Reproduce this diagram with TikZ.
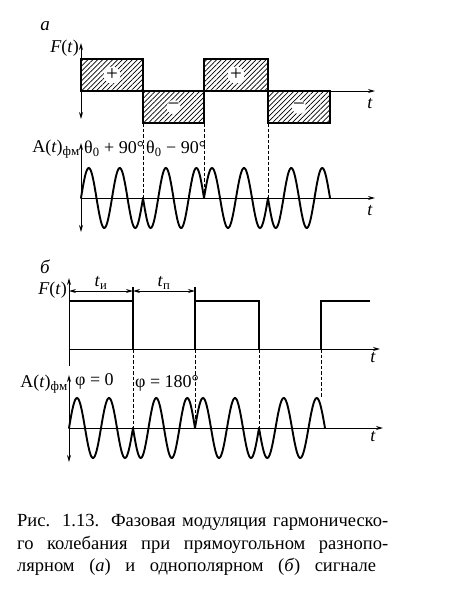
\documentclass[tikz,border=0pt]{standalone}
\usepackage{fontspec}
\setmainfont{Liberation Serif}
\usetikzlibrary{arrows.meta,patterns.meta}

\tikzset{
  axis/.style={line width=1pt, >={Stealth[length=7pt,width=4pt]}},
  pulse/.style={line width=1.6pt},
  hatch/.style={pulse, pattern={Lines[angle=45,distance=3.5pt,line width=0.7pt]}},
  wave/.style={line width=1.9pt, samples=80, smooth, line cap=round},
  marker/.style={line width=0.9pt, dash pattern=on 3.5pt off 2pt},
  lbl/.style={font=\fontsize{18}{20}\selectfont, inner sep=1pt},
  sign/.style={font=\fontsize{21}{22}\selectfont, fill=white, circle, inner sep=0pt},
  captext/.style={font=\fontsize{18.5}{20}\selectfont, inner sep=0pt, anchor=base west},
}

\begin{document}
\begin{tikzpicture}[x=1pt, y=-1pt]
\useasboundingbox (0,0) rectangle (450,598);

% --- a: bipolar signal ---
\node[lbl, font=\itshape\fontsize{19}{20}\selectfont] (labA) at (45,26) {а};
\foreach \xa/\xb/\yy in {81/143/59, 143/204/123, 204/268/59, 268/330/123}
  \draw[hatch] (\xa,91) rectangle (\xb,\yy);
\node[sign] (plusA) at (112,75) {+};
\node[sign] (minusA) at (173.5,107) {−};
\node[sign] (plusB) at (236,75) {+};
\node[sign] (minusB) at (299,107) {−};
\draw[axis, <->] (81,43) -- (81,119);
\draw[axis, ->] (81,91) -- (375,91);
\node[lbl, anchor=east] (Fa) at (80,48) {\textit{F}(\textit{t})};
\node[lbl] (ta) at (370,104) {\textit{t}};

\foreach \xm in {143,204,268}
  \draw[marker] (\xm,123) -- (\xm,198);

% phase-modulated wave a
\draw[axis, <->] (81,143) -- (81,232);
\draw[axis, ->] (81,198) -- (375,198);
\foreach \xa/\xb/\sg in {81/143/1, 143/204/-1, 204/268/1, 268/330/-1}
  \draw[wave, domain=\xa:\xb] plot (\x, {198-\sg*30*sin(720/(\xb-\xa)*(\x-\xa))});
\node[lbl, anchor=east] (Aa) at (81,149) {A(\textit{t})\textsubscript{\fontsize{13}{13}\selectfont фм}};
\node[lbl, anchor=west] (phA) at (83,149) {θ\textsubscript{0} + 90°};
\node[lbl, anchor=west] (phB) at (145,149) {θ\textsubscript{0} − 90°};
\node[lbl] (tb) at (370,211) {\textit{t}};

% --- б: unipolar signal ---
\node[lbl, font=\itshape\fontsize{19}{20}\selectfont] (labB) at (45,267) {б};
\draw[axis, <-] (69,278) -- (69,366);
\draw[axis, ->] (69,349) -- (380,349);
\draw[pulse] (69,301) -- (133,301);
\draw[pulse] (133,287) -- (133,349);
\draw[pulse] (195,349) -- (195,287);
\draw[pulse] (195,301) -- (259,301) -- (259,349);
\draw[pulse] (321,349) -- (321,301) -- (370,301);
\node[lbl, anchor=east] (Fb) at (68,290) {\textit{F}(\textit{t})};
\node[lbl] (tc) at (373,358) {\textit{t}};

\coordinate (pi0) at (69,291);
\coordinate (pi1) at (133,291);
\coordinate (pi2) at (195,291);
\draw[axis, <->] (pi0) -- (pi1) node[midway, above=0pt, lbl] (tI) {\textit{t}\textsubscript{и}};
\draw[axis, <->] (pi1) -- (pi2) node[midway, above=0pt, lbl] (tP) {\textit{t}\textsubscript{п}};

\foreach \xm/\ye in {133/428, 195/428, 259/428, 321/397}
  \draw[marker] (\xm,349) -- (\xm,\ye);

% phase-modulated wave б
\draw[axis, <->] (69,375) -- (69,462);
\draw[axis, ->] (69,428) -- (383,428);
\foreach \xa/\xb/\sg in {69/133/1, 133/195/-1, 195/259/1, 259/325/-1}
  \draw[wave, domain=\xa:\xb] plot (\x, {428-\sg*30*sin(720/(\xb-\xa)*(\x-\xa))});
\node[lbl, anchor=east] (Ab) at (69,384) {A(\textit{t})\textsubscript{\fontsize{13}{13}\selectfont фм}};
\node[lbl, anchor=west] (phC) at (74,381) {φ = 0};
\node[lbl, anchor=west] (phD) at (134,383) {φ = 180°};
\node[lbl] (td) at (373,437) {\textit{t}};

% caption
\node[captext] (cap1) at (17,526) {\makebox[371pt][s]{Рис. 1.13. Фазовая модуляция гармоническо-}};
\node[captext] (cap2) at (17,549) {\makebox[371pt][s]{го колебания при прямоугольном разнопо-}};
\node[captext] (cap3) at (17,571) {\makebox[359pt][s]{лярном (\textit{а}) и однополярном (\textit{б}) сигнале}};
\end{tikzpicture}
\end{document}
